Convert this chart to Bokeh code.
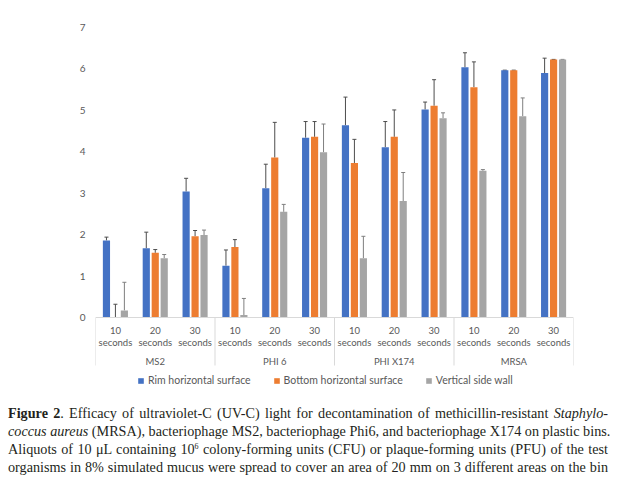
import math
from bokeh.plotting import figure
from bokeh.models import (ColumnDataSource, FixedTicker, Whisker, TeeHead,
                          Legend, LegendItem, Div)
from bokeh.layouts import column
from bokeh.core.properties import value
from bokeh.embed import file_html
from bokeh.resources import INLINE

# ---------------- data ----------------
groups = ["MS2", "PHI 6", "PHI X174", "MRSA"]
times = ["10", "20", "30"]
time_unit = "seconds"
series_names = ["Rim horizontal surface", "Bottom horizontal surface", "Vertical side wall"]
series_colors = ["#4472C4", "#ED7D31", "#A5A5A5"]

rim = [1.86, 1.67, 3.04, 1.25, 3.12, 4.34, 4.64, 4.11, 5.02, 6.04, 5.97, 5.90]
rim_err = [0.08, 0.39, 0.32, 0.38, 0.58, 0.39, 0.68, 0.62, 0.18, 0.35, 0.00, 0.36]
bottom = [0.00, 1.56, 1.96, 1.70, 3.86, 4.36, 3.73, 4.36, 5.11, 5.56, 5.97, 6.23]
bottom_err = [0.32, 0.08, 0.14, 0.18, 0.85, 0.37, 0.57, 0.65, 0.63, 0.61, 0.00, 0.00]
wall = [0.17, 1.43, 1.99, 0.06, 2.55, 3.99, 1.43, 2.81, 4.81, 3.54, 4.86, 6.23]
wall_err = [0.68, 0.09, 0.12, 0.40, 0.18, 0.68, 0.53, 0.69, 0.13, 0.03, 0.44, 0.00]
y_ticks = [0, 1, 2, 3, 4, 5, 6, 7]

# ---------------- geometry (pixels) ----------------
W = 616
FRAME_L, FRAME_R = 95, 573          # frame inside figure
FRAME_T, FRAME_B = 15, 395
Y0_PX, Y7_PX = 317, 27              # figure-y of value 0 and 7
S = (Y0_PX - Y7_PX) / 7.0           # px per unit
y_end = 7 + (Y7_PX - FRAME_T) / S
y_start = -(FRAME_B - Y0_PX) / S
n_cat = len(groups) * len(times)

TXT = "#595959"
FONT = "Lato"

p = figure(width=W, height=FRAME_B, output_backend="svg", toolbar_location=None,
           x_range=(0, n_cat), y_range=(y_start, y_end), x_axis_location=None,
           min_border_left=FRAME_L, min_border_right=W - FRAME_R,
           min_border_top=FRAME_T, min_border_bottom=0)
p.outline_line_color = None
p.grid.visible = False
p.background_fill_color = "white"

ya = p.yaxis[0]
ya.ticker = FixedTicker(ticks=y_ticks)
ya.axis_line_color = None
ya.major_tick_line_color = None
ya.minor_tick_line_color = None
ya.major_tick_out = 0
ya.major_label_standoff = 10
ya.major_label_text_color = TXT
ya.major_label_text_font = FONT
ya.major_label_text_font_size = "10px"

# bars
offsets = [-0.225, 0.0, 0.225]
vals = [rim, bottom, wall]
errs = [rim_err, bottom_err, wall_err]
err_colors = ["#4d4d4d", "#4d4d4d", "#7f7f7f"]
renderers = []
for j in range(3):
    xs = [i + 0.5 + offsets[j] for i in range(n_cat)]
    src = ColumnDataSource(dict(x=xs, top=vals[j],
                                upper=[v + e for v, e in zip(vals[j], errs[j])]))
    r = p.vbar(x="x", top="top", width=0.18, source=src,
               fill_color=series_colors[j], line_color=None)
    renderers.append(r)
    wh = Whisker(base="x", lower="top", upper="upper", source=src,
                 line_color=err_colors[j], line_width=1,
                 lower_head=None,
                 upper_head=TeeHead(size=4, line_color=err_colors[j], line_width=1))
    p.add_layout(wh)

# category axis (Excel-like)
AX = "#D9D9D9"
p.segment(x0=[0], y0=[0], x1=[n_cat], y1=[0], line_color=AX, line_width=1)
sep_x = [k * len(times) for k in range(len(groups) + 1)]
p.segment(x0=sep_x, y0=[0] * len(sep_x), x1=sep_x, y1=[-48 / S] * len(sep_x),
          line_color=AX, line_width=1)

cat_x = [i + 0.5 for i in range(n_cat)]
cat_t = [times[i % len(times)] for i in range(n_cat)]
p.text(x=cat_x, y=[0] * n_cat, text=cat_t, y_offset=13, text_align="center",
       text_baseline="middle", text_font=value(FONT), text_font_size="9.5px",
       text_color=TXT)
p.text(x=cat_x, y=[0] * n_cat, text=[time_unit] * n_cat, y_offset=25,
       text_align="center", text_baseline="middle", text_font=value(FONT),
       text_font_size="9.5px", text_color=TXT)
grp_x = [k * len(times) + len(times) / 2 for k in range(len(groups))]
p.text(x=grp_x, y=[0] * len(groups), text=groups, y_offset=44, text_align="center",
       text_baseline="middle", text_font=value(FONT), text_font_size="9.5px",
       text_color=TXT)

# y-axis title with subscript
ymid = 3.5
p.text(x=[0], y=[ymid], text=["Log"], angle=math.pi / 2, x_offset=-23, y_offset=33,
       text_align="right", text_baseline="middle", text_font=value(FONT),
       text_font_size="10px", text_color=TXT)
p.text(x=[0], y=[ymid], text=["10"], angle=math.pi / 2, x_offset=-20, y_offset=32,
       text_align="left", text_baseline="middle", text_font=value(FONT),
       text_font_size="7px", text_color=TXT)
p.text(x=[0], y=[ymid], text=["PFU/CFU reduction"], angle=math.pi / 2, x_offset=-23,
       y_offset=24, text_align="left", text_baseline="middle", text_font=value(FONT),
       text_font_size="10px", text_color=TXT)

legend = Legend(items=[LegendItem(label=series_names[j], renderers=[renderers[j]])
                       for j in range(3)],
                orientation="horizontal", location=(42, 9), padding=0, margin=0,
                spacing=22, glyph_width=7, glyph_height=7, label_standoff=4,
                label_height=12, label_text_font=FONT, label_text_font_size="10.5px",
                label_text_color=TXT, border_line_color=None,
                background_fill_alpha=0)
p.add_layout(legend)

caption_lines = [
    "<b>Figure 2</b>. Efficacy of ultraviolet-C (UV-C) light for decontamination of methicillin-resistant <i>Staphylo-</i>",
    "<i>coccus aureus</i> (MRSA), bacteriophage MS2, bacteriophage Phi6, and bacteriophage X174 on plastic bins.",
    "Aliquots of 10 &mu;L containing 10<sup style='font-size:8px;vertical-align:5px;line-height:0'>6</sup> colony-forming units (CFU) or plaque-forming units (PFU) of the test",
    "organisms in 8% simulated mucus were spread to cover an area of 20 mm on 3 different areas on the bin",
]
html = "<div style='padding-top:9px;padding-left:8px;font-family:\"Liberation Serif\",serif;font-size:14.2px;line-height:18px;color:#231f20;width:608px;'>" + "".join(
    "<div style='text-align:justify;text-align-last:justify;white-space:nowrap;'>%s</div>" % l
    for l in caption_lines) + "</div>"
cap = Div(text=html, width=W, height=84, margin=0)

layout = column(p, cap, spacing=0)
open("out.html", "w").write(file_html(layout, INLINE))
